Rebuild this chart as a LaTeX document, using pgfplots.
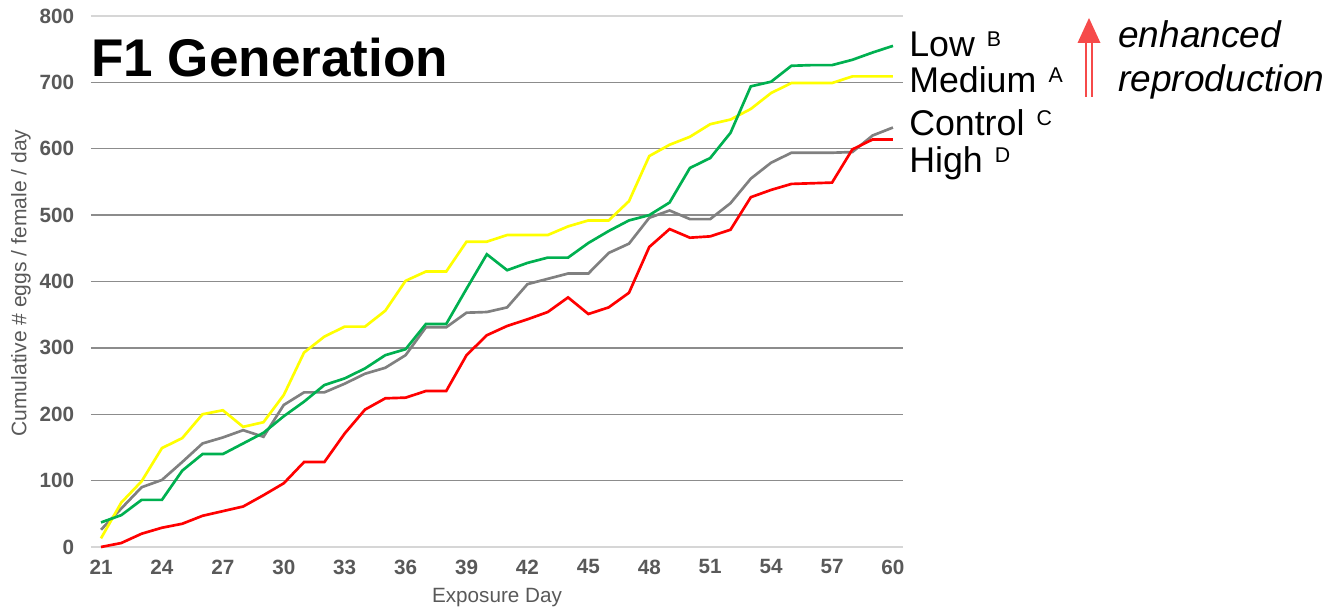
\documentclass[border=0pt]{standalone}
\usepackage{pgfplots}
\pgfplotsset{compat=1.18}
\usepackage{fontspec}
\setmainfont{Liberation Sans}
\definecolor{cYellow}{HTML}{FFFF00}
\definecolor{cGreen}{HTML}{00B050}
\definecolor{cGray}{HTML}{808080}
\definecolor{cRed}{HTML}{FF0000}
\definecolor{gridgray}{HTML}{8C8C8C}
\definecolor{gridlight}{HTML}{D6D6D6}
\definecolor{ticktext}{HTML}{595959}
\definecolor{arrowred}{HTML}{F64A4A}
\pgfplotstableread{
day medium low control high
21 13 37 26 0
22 67 48 58 6
23 99 71 90 20
24 149 71 101 29
25 164 115 128 35
26 200 140 156 47
27 206 140 165 54
28 181 156 176 61
29 188 172 166 78
30 229 197 214 96
31 293 219 233 128
32 317 244 233 128
33 332 254 246 171
34 332 269 261 207
35 356 289 270 224
36 401 298 289 225
37 415 336 331 235
38 415 336 331 235
39 460 389 353 289
40 460 441 354 319
41 470 417 361 333
42 470 428 396 343
43 470 436 404 354
44 483 436 412 376
45 492 458 412 351
46 492 476 443 361
47 521 492 457 383
48 589 500 496 452
49 606 519 507 479
50 618 571 494 466
51 637 586 494 468
52 644 624 518 478
53 660 694 555 527
54 684 701 579 538
55 699 725 594 547
56 699 726 594 548
57 699 726 594 549
58 709 734 595 599
59 709 745 620 614
60 709 755 632 614
}\eggs
\begin{document}
\begin{tikzpicture}
\path[use as bounding box] (0,0) rectangle (1005pt,457.5pt);
\begin{axis}[
  at={(68.14pt,47.25pt)}, anchor=south west,
  scale only axis, width=609.2pt, height=398.25pt,
  xmin=20.5, xmax=60.5, ymin=0, ymax=800,
  axis line style={draw=none},
  tick style={draw=none},
  xtick={21,24,...,60},
  ytick={100,200,...,700},
  extra y ticks={0,800},
  ymajorgrids,
  grid style={color=gridgray, line width=1.1pt},
  extra y tick style={grid style={color=gridlight, line width=1.1pt}},
  /pgf/number format/assume math mode=true,
  ticklabel style={font=\fontsize{15.5pt}{15.5pt}\selectfont\bfseries, text=ticktext},
  xticklabel style={yshift=-6pt},
  yticklabel style={xshift=-9pt},
  xlabel={Exposure Day},
  ylabel={Cumulative \# eggs / female / day},
  xlabel style={at={(axis description cs:0.5,-0.096)}, anchor=center, font=\fontsize{15.5pt}{15.5pt}\selectfont, text=ticktext},
  ylabel style={at={(axis description cs:-0.086,0.497)}, anchor=center, font=\fontsize{15.8pt}{15.8pt}\selectfont, text=ticktext},
  clip=false,
]
\addplot[cGray, line width=2pt] table[x=day, y=control] {\eggs};
\addplot[cYellow, line width=2pt] table[x=day, y=medium] {\eggs};
\addplot[cRed, line width=2pt] table[x=day, y=high] {\eggs};
\addplot[cGreen, line width=2pt] table[x=day, y=low] {\eggs};
\end{axis}
\begin{scope}[x=0.75pt, y=0.75pt]
\node[anchor=base west, inner sep=0pt, font=\fontsize{39.8pt}{39.8pt}\selectfont\bfseries] at (91,533) {F1 Generation};
\def\leg#1#2{#1\hspace{0.34em}\raisebox{7.5pt}{\fontsize{16pt}{16pt}\selectfont #2}}
\node[anchor=base west, inner sep=0pt, font=\fontsize{26.8pt}{26.8pt}\selectfont] at (909,553) {\leg{Low}{B}};
\node[anchor=base west, inner sep=0pt, font=\fontsize{26.8pt}{26.8pt}\selectfont] at (909,517) {\leg{Medium}{A}};
\node[anchor=base west, inner sep=0pt, font=\fontsize{26.8pt}{26.8pt}\selectfont] at (909,474) {\leg{Control}{C}};
\node[anchor=base west, inner sep=0pt, font=\fontsize{26.8pt}{26.8pt}\selectfont] at (909,437) {\leg{High}{D}};
\fill[arrowred] (1077.5,567) -- (1100.5,567) -- (1089,592) -- cycle;
\draw[arrowred, line width=1.8pt] (1086,513) -- (1086,568);
\draw[arrowred, line width=1.8pt] (1092,513) -- (1092,568);
\node[anchor=base west, inner sep=0pt, font=\fontsize{27.8pt}{27.8pt}\selectfont\itshape] at (1118,562) {enhanced};
\node[anchor=base west, inner sep=0pt, font=\fontsize{27.8pt}{27.8pt}\selectfont\itshape] at (1118,518) {reproduction};
\end{scope}
\end{tikzpicture}
\end{document}
